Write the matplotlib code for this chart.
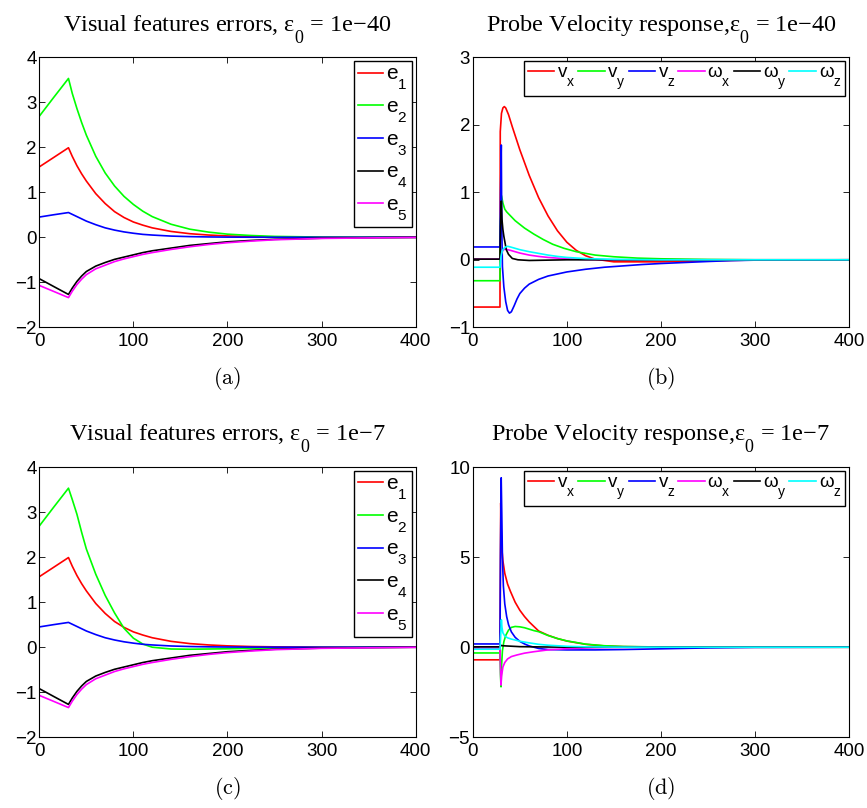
import matplotlib
matplotlib.use("Agg")
import matplotlib.pyplot as plt
from matplotlib import _mathtext

# MATLAB-like subscripts: bigger and dropped lower than the mathtext defaults
_mathtext.SHRINK_FACTOR = 0.74
_mathtext.FontConstantsBase.sub1 = 0.95


class SerifConstants(_mathtext.FontConstantsBase):
    sub1 = 1.15


_mathtext._font_constant_mapping['Liberation Serif'] = SerifConstants

# --- visual feature errors, panels (a) and (c): shared time samples
t_err = [0, 15, 31, 35, 40, 45, 50, 60, 70, 80, 90, 100, 110, 120, 140, 160, 180, 200, 225, 250, 300, 400]
e1_a = [1.565, 1.77, 1.99, 1.80, 1.59, 1.41, 1.25, 0.97, 0.75, 0.57, 0.44, 0.34, 0.27, 0.21, 0.13, 0.08, 0.05, 0.03, 0.015, 0.008, 0.002, 0]
e2_a = [2.69, 3.10, 3.53, 3.20, 2.86, 2.55, 2.27, 1.80, 1.43, 1.14, 0.91, 0.73, 0.58, 0.46, 0.29, 0.18, 0.115, 0.07, 0.04, 0.02, 0.005, 0]
e3_a = [0.45, 0.50, 0.55, 0.51, 0.46, 0.41, 0.36, 0.28, 0.21, 0.16, 0.12, 0.09, 0.065, 0.05, 0.027, 0.015, 0.008, 0.004, 0.002, 0.001, 0, 0]
e4_a = [-0.92, -1.09, -1.27, -1.13, -0.98, -0.86, -0.76, -0.64, -0.56, -0.49, -0.44, -0.39, -0.34, -0.30, -0.24, -0.18, -0.14, -0.10, -0.07, -0.045, -0.02, 0]
e5_a = [-1.07, -1.20, -1.34, -1.20, -1.05, -0.93, -0.83, -0.70, -0.62, -0.54, -0.48, -0.43, -0.38, -0.34, -0.27, -0.21, -0.16, -0.12, -0.085, -0.055, -0.025, -0.003]
e2_c = [2.69, 3.10, 3.53, 3.28, 2.95, 2.55, 2.18, 1.62, 1.15, 0.76, 0.42, 0.20, 0.07, 0.0, -0.04, -0.045, -0.04, -0.035, -0.025, -0.015, -0.005, 0]

# --- probe velocity, eps0 = 1e-40 (b)
vx_b_t = [0, 28.9, 29.2, 30.5, 32, 33.5, 35, 38, 42, 46, 50, 60, 70, 80, 90, 100, 110, 120, 130, 150, 200, 250, 300, 400]
vx_b = [-0.70, -0.70, 1.90, 2.17, 2.25, 2.27, 2.25, 2.15, 1.97, 1.80, 1.63, 1.25, 0.92, 0.65, 0.43, 0.26, 0.14, 0.06, 0.01, -0.03, -0.03, -0.015, -0.003, 0]
vy_b_t = [0, 28.9, 29.3, 30.5, 32, 34, 36, 45, 55, 65, 75, 85, 97, 110, 130, 150, 175, 200, 250, 300, 400]
vy_b = [-0.31, -0.31, 0.55, 0.95, 0.84, 0.75, 0.71, 0.58, 0.47, 0.38, 0.30, 0.23, 0.17, 0.12, 0.07, 0.045, 0.025, 0.015, 0.005, 0, 0]
vz_b_t = [0, 28.9, 29.5, 30.3, 30.8, 31.5, 33, 35, 37, 39, 41, 44, 47, 50, 55, 60, 70, 80, 90, 100, 120, 140, 160, 180, 200, 225, 250, 275, 300, 400]
vz_b = [0.19, 0.19, 1.0, 1.70, 0.50, -0.10, -0.40, -0.62, -0.75, -0.79, -0.77, -0.68, -0.58, -0.50, -0.42, -0.36, -0.29, -0.24, -0.21, -0.18, -0.14, -0.11, -0.09, -0.07, -0.055, -0.04, -0.025, -0.012, -0.005, 0]
wx_b_t = [0, 28.9, 30, 32, 34, 37, 40, 50, 60, 70, 80, 100, 120, 150, 400]
wx_b = [0.01, 0.01, 0.08, 0.14, 0.16, 0.15, 0.14, 0.10, 0.07, 0.05, 0.035, 0.015, 0.005, 0, 0]
wy_b_t = [0, 28.9, 29.5, 30.3, 31, 32, 33, 35.6, 38, 42, 48, 60, 80, 100, 400]
wy_b = [0.01, 0.01, 0.5, 0.87, 0.6, 0.45, 0.35, 0.15, 0.08, 0.02, 0.0, -0.01, -0.005, 0, 0]
wz_b_t = [0, 28.9, 29.3, 30, 31, 33, 35, 37, 40, 50, 60, 70, 80, 90, 100, 120, 150, 200, 400]
wz_b = [-0.11, -0.11, -0.04, 0.05, 0.12, 0.17, 0.19, 0.20, 0.19, 0.15, 0.12, 0.095, 0.07, 0.05, 0.035, 0.018, 0.007, 0, 0]

# --- probe velocity, eps0 = 1e-7 (d)
vx_d_t = [0, 28.9, 29.2, 29.7, 30.2, 31, 32, 34, 37, 40, 45, 50, 55, 60, 70, 80, 90, 100, 120, 140, 160, 200, 250, 400]
vx_d = [-0.7, -0.7, 3.0, 8.0, 6.5, 5.4, 4.8, 4.1, 3.5, 3.1, 2.5, 2.05, 1.7, 1.4, 0.90, 0.66, 0.48, 0.34, 0.16, 0.07, 0.03, 0.01, 0, 0]
vy_d_t = [0, 28.9, 29.4, 30, 30.6, 31.5, 33, 35, 38, 41, 45, 50, 55, 60, 65, 70, 80, 90, 100, 120, 140, 160, 200, 250, 400]
vy_d = [-0.32, -0.32, -1.5, -2.2, -1.0, -0.2, 0.3, 0.65, 0.95, 1.1, 1.15, 1.13, 1.08, 1.0, 0.92, 0.86, 0.65, 0.48, 0.35, 0.17, 0.08, 0.04, 0.01, 0, 0]
vz_d_t = [0, 28.9, 29.4, 30.2, 30.8, 31.5, 32.5, 34, 36, 38, 41, 45, 50, 55, 60, 70, 80, 100, 130, 160, 200, 250, 300, 400]
vz_d = [0.18, 0.18, 5.0, 9.4, 7.5, 5.0, 3.4, 2.4, 1.7, 1.25, 0.85, 0.55, 0.32, 0.18, 0.07, -0.07, -0.13, -0.15, -0.15, -0.13, -0.09, -0.04, -0.01, 0]
wx_d_t = [0, 28.9, 29.4, 30, 30.6, 32, 34, 37, 41, 47, 55, 65, 80, 100, 130, 170, 400]
wx_d = [-0.05, -0.05, -1.2, -2.1, -1.6, -1.1, -0.85, -0.65, -0.52, -0.43, -0.33, -0.25, -0.15, -0.08, -0.03, 0, 0]
wy_d_t = [0, 28.9, 30, 32, 50, 80, 100, 400]
wy_d = [0.02, 0.02, 0.1, 0.08, 0.03, 0.01, 0, 0]
wz_d_t = [0, 28.9, 29.5, 30.4, 31, 32, 34, 37, 41, 45, 50, 60, 70, 80, 100, 120, 150, 200, 400]
wz_d = [-0.11, -0.11, 0.5, 1.52, 1.1, 0.8, 0.62, 0.52, 0.45, 0.4, 0.33, 0.24, 0.16, 0.11, 0.05, 0.02, 0.005, 0, 0]

err_labels = [r'$\mathregular{e_1}$', r'$\mathregular{e_2}$', r'$\mathregular{e_3}$',
              r'$\mathregular{e_4}$', r'$\mathregular{e_5}$']
vel_labels = [r'$\mathregular{v_x}$', r'$\mathregular{v_y}$', r'$\mathregular{v_z}$',
              r'$\mathregular{ω_x}$', r'$\mathregular{ω_y}$', r'$\mathregular{ω_z}$']
err_colors = ['#ff0000', '#00ff00', '#0000ff', '#000000', '#ff00ff']
vel_colors = ['#ff0000', '#00ff00', '#0000ff', '#ff00ff', '#000000', '#00ffff']

titles = ['Visual features errors, $\\mathregular{ε_0}$ = 1e\u221240',
          'Probe Velocity response,$\\mathregular{ε_0}$ = 1e\u221240',
          'Visual features errors, $\\mathregular{ε_0}$ = 1e\u22127',
          'Probe Velocity response,$\\mathregular{ε_0}$ = 1e\u22127']
captions = ['(a)', '(b)', '(c)', '(d)']

W, H = 867, 808
fig = plt.figure(figsize=(W / 100, H / 100), dpi=100)
plt.rcParams['font.family'] = ['Liberation Sans', 'DejaVu Sans']


def make_ax(left, top, right, bottom):
    return fig.add_axes([left / W, 1 - bottom / H, (right - left) / W, (bottom - top) / H])


ax_a = make_ax(39.3, 57.3, 415.7, 327.3)
ax_b = make_ax(472.8, 57.3, 849.0, 327.3)
ax_c = make_ax(39.3, 467.0, 415.7, 737.3)
ax_d = make_ax(472.8, 467.0, 849.0, 737.3)

err_a = [e1_a, e2_a, e3_a, e4_a, e5_a]
err_c = [e1_a, e2_c, e3_a, e4_a, e5_a]
for ax, series in [(ax_a, err_a), (ax_c, err_c)]:
    for y, c, lab in zip(series, err_colors, err_labels):
        ax.plot(t_err, y, color=c, lw=1.2, label=lab)
    ax.set_ylim(-2, 4)
    ax.set_yticks([-2, -1, 0, 1, 2, 3, 4])
    leg = ax.legend(loc='upper right', fontsize=15, fancybox=False, edgecolor='black',
                    framealpha=1, borderaxespad=0.17, handlelength=1.2, handletextpad=0.15,
                    labelspacing=0.25, borderpad=0.2)
    leg.get_frame().set_linewidth(1.0)

vel_b = [(vx_b_t, vx_b), (vy_b_t, vy_b), (vz_b_t, vz_b), (wx_b_t, wx_b), (wy_b_t, wy_b), (wz_b_t, wz_b)]
vel_d = [(vx_d_t, vx_d), (vy_d_t, vy_d), (vz_d_t, vz_d), (wx_d_t, wx_d), (wy_d_t, wy_d), (wz_d_t, wz_d)]
for ax, series, ylim, yt in [(ax_b, vel_b, (-1, 3), [-1, 0, 1, 2, 3]),
                             (ax_d, vel_d, (-5, 10), [-5, 0, 5, 10])]:
    for (t, y), c, lab in zip(series, vel_colors, vel_labels):
        ax.plot(t, y, color=c, lw=1.2, label=lab)
    ax.set_ylim(*ylim)
    ax.set_yticks(yt)
    leg = ax.legend(loc='upper right', ncol=6, fontsize=13.5, fancybox=False, edgecolor='black',
                    framealpha=1, borderaxespad=0.2, handlelength=1.4, handletextpad=0.15,
                    columnspacing=0.15, borderpad=0.2)
    leg.get_frame().set_linewidth(1.0)

for ax, ttl, cap in zip([ax_a, ax_b, ax_c, ax_d], titles, captions):
    ax.set_xlim(0, 400)
    ax.set_xticks([0, 100, 200, 300, 400])
    ax.tick_params(direction='in', top=True, right=True, length=4, width=0.6,
                   labelsize=13.5, pad=4)
    ax.tick_params(axis='y', pad=2)
    for s in ax.spines.values():
        s.set_linewidth(0.8)
    ax.set_title(ttl, fontsize=17.5, fontfamily='Liberation Serif', pad=19)
    ax.text(0.5, -0.19, r'$\mathrm{' + cap + '}$', transform=ax.transAxes, ha='center',
            va='center', fontsize=16, math_fontfamily='cm')

fig.savefig('out.png', dpi=100)
